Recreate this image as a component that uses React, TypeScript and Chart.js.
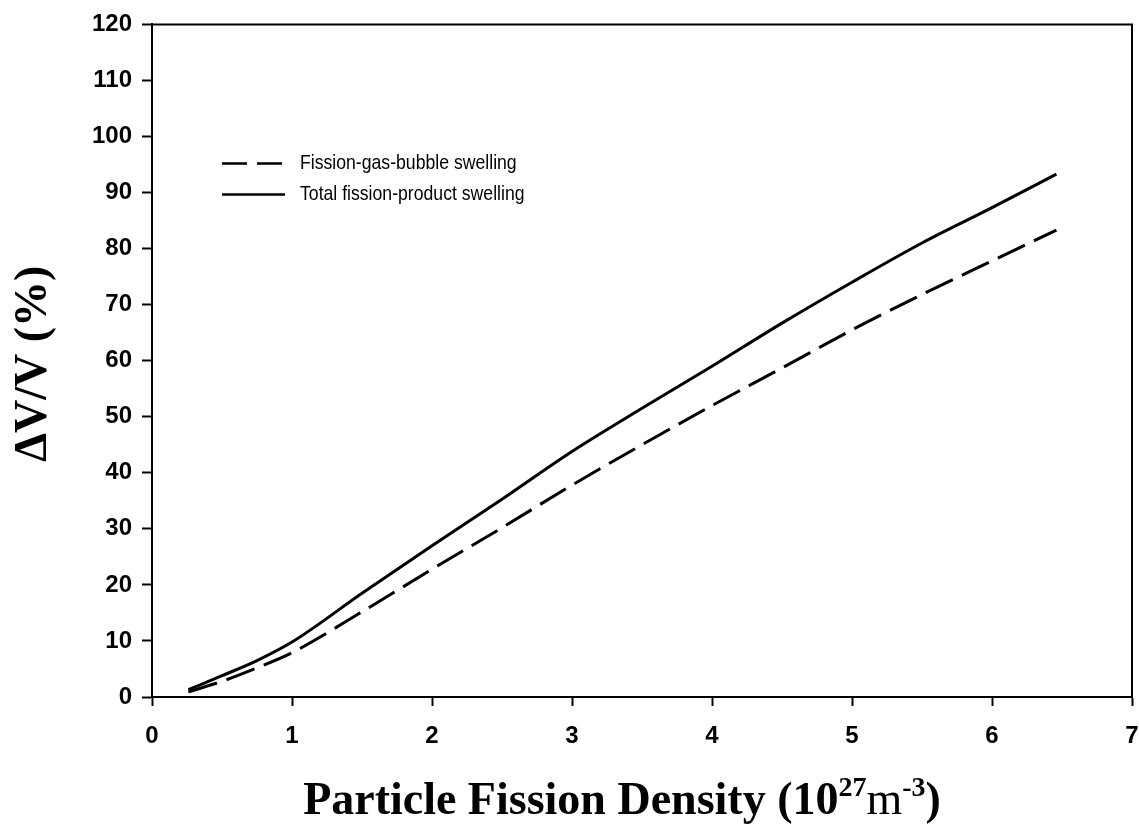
import React, { useEffect, useRef } from "react";
import { Chart, registerables } from "chart.js";

Chart.register(...registerables);

const xValues = [0.26, 0.5, 0.75, 1, 1.5, 2, 2.5, 3, 3.5, 4, 4.5, 5, 5.5, 6, 6.46];
const gasBubble = [0.9, 2.8, 5.2, 7.9, 15.2, 22.8, 30.2, 37.8, 45.0, 52.0, 58.7, 65.5, 71.8, 77.8, 83.3];
const totalProduct = [1.3, 3.8, 6.5, 9.8, 18.5, 27.0, 35.3, 43.8, 51.5, 59.0, 66.7, 74.0, 81.0, 87.3, 93.3];
const seriesLabels = ["Fission-gas-bubble swelling", "Total fission-product swelling"];
const yTitle = "\u0394V/V (%)";
const xTitleParts = ["Particle Fission Density (10", "27", "m", "-3", ")"];

const framePlugin = {
  id: "framePlugin",
  afterDraw(chart: any) {
    const { ctx, chartArea } = chart;
    const { left, right, top, bottom } = chartArea;
    ctx.save();
    ctx.strokeStyle = "#000";
    ctx.lineWidth = 2;
    ctx.beginPath();
    ctx.moveTo(left, top);
    ctx.lineTo(right, top);
    ctx.lineTo(right, bottom);
    ctx.stroke();

    // legend
    const lx0 = left + 70;
    const lx1 = left + 133;
    const rows = [top + 139, top + 170];
    ctx.lineWidth = 2.5;
    ctx.setLineDash([25, 10]);
    ctx.beginPath();
    ctx.moveTo(lx0, rows[0]);
    ctx.lineTo(lx1, rows[0]);
    ctx.stroke();
    ctx.setLineDash([]);
    ctx.beginPath();
    ctx.moveTo(lx0, rows[1]);
    ctx.lineTo(lx1, rows[1]);
    ctx.stroke();
    ctx.fillStyle = "#000";
    ctx.textBaseline = "middle";
    ctx.textAlign = "left";
    ctx.font = "21px 'Liberation Sans', Arial, sans-serif";
    [0, 1].forEach((i) => {
      ctx.save();
      ctx.translate(lx1 + 15, rows[i]);
      ctx.scale(0.84, 1);
      ctx.fillText(seriesLabels[i], 0, 0);
      ctx.restore();
    });

    // y title
    ctx.save();
    ctx.translate(34, (top + bottom) / 2 + 3);
    ctx.rotate(-Math.PI / 2);
    ctx.font = "bold 46px 'Liberation Serif', 'Times New Roman', serif";
    ctx.textAlign = "center";
    ctx.textBaseline = "middle";
    ctx.fillText(yTitle, 0, 0);
    ctx.restore();

    // x title with superscripts
    const big = "bold 46px 'Liberation Serif', 'Times New Roman', serif";
    const reg = "46px 'Liberation Serif', 'Times New Roman', serif";
    const sup = "bold 28px 'Liberation Serif', 'Times New Roman', serif";
    const fonts = [big, sup, reg, sup, big];
    const offs = [0, -18, 0, -18, 0];
    let total = 0;
    const widths = xTitleParts.map((p, i) => {
      ctx.font = fonts[i];
      const w = ctx.measureText(p).width;
      total += w;
      return w;
    });
    let x = 622 - total / 2;
    const baseY = 814;
    ctx.textAlign = "left";
    ctx.textBaseline = "alphabetic";
    xTitleParts.forEach((p, i) => {
      ctx.font = fonts[i];
      ctx.fillText(p, x, baseY + offs[i]);
      x += widths[i];
    });
    ctx.restore();
  },
};

export default function App() {
  const ref = useRef<HTMLCanvasElement | null>(null);
  useEffect(() => {
    if (!ref.current) return;
    const chart = new Chart(ref.current, {
      type: "line",
      data: {
        datasets: [
          {
            label: seriesLabels[0],
            data: xValues.map((x, i) => ({ x, y: gasBubble[i] })),
            borderColor: "#000",
            borderWidth: 3,
            borderDash: [30, 10],
            pointRadius: 0,
            tension: 0.3,
            cubicInterpolationMode: "monotone",
          },
          {
            label: seriesLabels[1],
            data: xValues.map((x, i) => ({ x, y: totalProduct[i] })),
            borderColor: "#000",
            borderWidth: 3,
            pointRadius: 0,
            tension: 0.3,
            cubicInterpolationMode: "monotone",
          },
        ],
      },
      options: {
        animation: false,
        responsive: false,
        maintainAspectRatio: false,
        layout: { padding: { top: 23, right: 7, left: 0, bottom: 0 } },
        plugins: { legend: { display: false }, tooltip: { enabled: false } },
        scales: {
          x: {
            type: "linear",
            min: 0,
            max: 7,
            ticks: {
              stepSize: 1,
              color: "#000",
              padding: 16,
              font: { family: "'Liberation Sans', Arial, sans-serif", size: 24, weight: "bold" },
            },
            grid: { drawOnChartArea: false, drawTicks: true, tickLength: 9, tickColor: "#000", tickWidth: 2 },
            border: { display: true, color: "#000", width: 2 },
            afterFit(scale: any) {
              scale.height = 136;
              scale.paddingRight = 0;
              scale.paddingLeft = 0;
            },
          },
          y: {
            min: 0,
            max: 120,
            ticks: {
              stepSize: 10,
              color: "#000",
              padding: 10,
              font: { family: "'Liberation Sans', Arial, sans-serif", size: 24, weight: "bold" },
            },
            grid: { drawOnChartArea: false, drawTicks: true, tickLength: 10, tickColor: "#000", tickWidth: 2 },
            border: { display: true, color: "#000", width: 2 },
            afterFit(scale: any) {
              scale.width = 152;
            },
          },
        },
      },
      plugins: [framePlugin],
    });
    return () => chart.destroy();
  }, []);
  return (
    <div style={{ position: "fixed", left: 0, top: 0, width: 1139, height: 833, background: "#fff" }}>
      <canvas ref={ref} width={1139} height={833} style={{ width: 1139, height: 833 }} />
    </div>
  );
}
